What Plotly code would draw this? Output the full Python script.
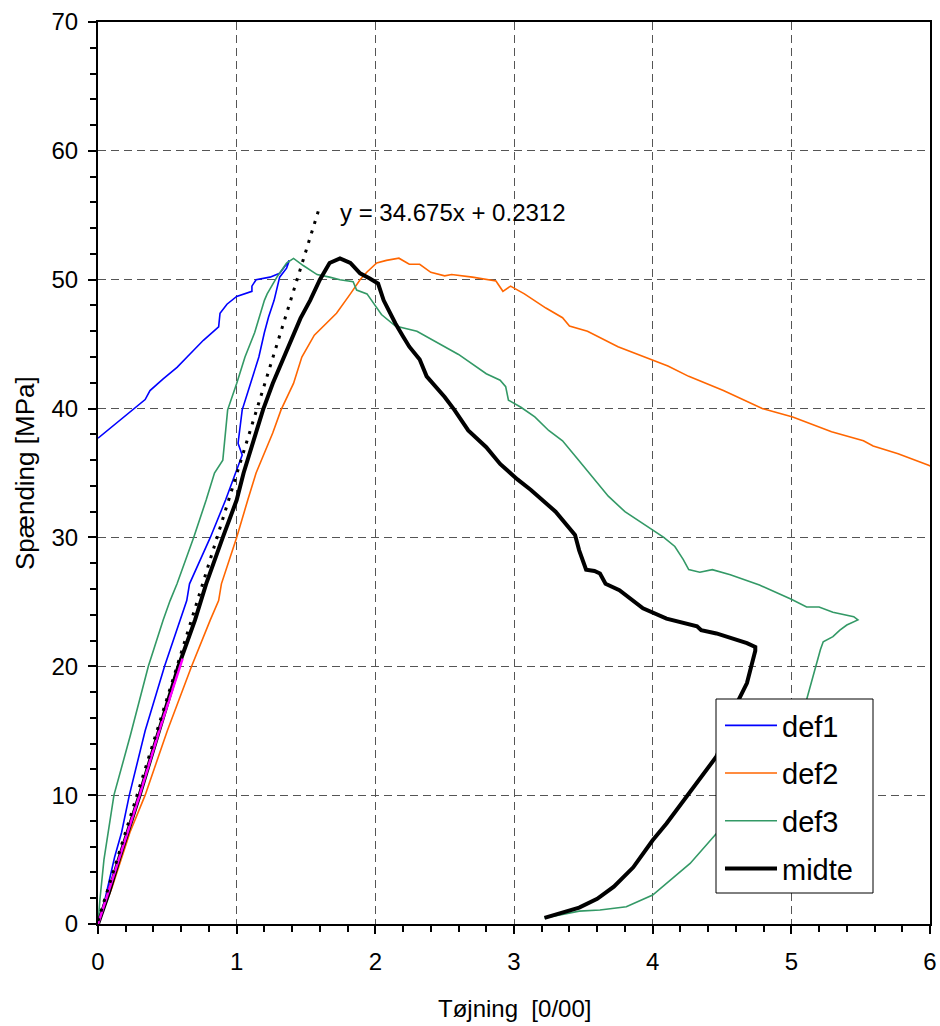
import plotly.graph_objects as go

# ---------------- data ----------------
def1_x = [0, 0.05, 0.12, 0.17, 0.226, 0.34, 0.48, 0.59, 0.64, 0.66, 0.81, 0.92, 0.99, 1.04, 1.01, 1.02, 1.04,
          1.10, 1.16, 1.20, 1.23, 1.27, 1.31, 1.36, 1.38,
          1.31, 1.24, 1.14, 1.11, 1.11, 1.0, 0.93, 0.88, 0.87, 0.76, 0.66, 0.57, 0.47, 0.375, 0.34, 0.25, 0.15, 0.06, 0]
def1_y = [0, 1.9, 5.2, 7.1, 10, 15, 20, 23.6, 25.1, 26.4, 30, 32.9, 35, 36.4, 37.3, 38.1, 39.9,
          41.95, 44, 45.9, 47.1, 48.4, 50.2, 50.9, 51.5,
          50.5, 50.2, 50.0, 49.5, 49.1, 48.7, 48.1, 47.4, 46.35, 45.3, 44.2, 43.2, 42.3, 41.4, 40.7, 39.9, 39.0, 38.2, 37.7]

def2_x = [0, 0.10, 0.23, 0.34, 0.50, 0.675, 0.81, 0.87, 0.89, 1.0, 1.08, 1.14, 1.26, 1.32, 1.41, 1.47, 1.56,
          1.72, 1.82, 1.89, 1.94, 2.01, 2.08, 2.17, 2.245, 2.32, 2.40, 2.50, 2.55, 2.70, 2.87, 2.92, 2.975,
          3.075, 3.23, 3.35, 3.40, 3.53, 3.75, 4.0, 4.11, 4.26, 4.51, 4.79, 5.01, 5.29, 5.52, 5.59, 5.77, 5.99, 6.05]
def2_y = [0, 2.8, 7.1, 10, 15, 20, 23.6, 25.1, 26.4, 30, 32.9, 35, 38.1, 39.9, 41.95, 44, 45.7,
          47.4, 48.9, 50.0, 50.6, 51.3, 51.5, 51.67, 51.2, 51.2, 50.57, 50.3, 50.4, 50.2, 49.9, 49.1, 49.5,
          48.9, 47.8, 47.05, 46.4, 46.0, 44.8, 43.8, 43.3, 42.5, 41.4, 40.0, 39.35, 38.2, 37.5, 37.1, 36.5, 35.6, 35.3]

def3_x = [0, 0.014, 0.043, 0.08, 0.115, 0.235, 0.363, 0.47, 0.52, 0.57, 0.69, 0.78, 0.84, 0.90, 0.92, 0.935,
          1.0, 1.06, 1.13, 1.20, 1.22, 1.29, 1.36, 1.41, 1.48, 1.58, 1.67, 1.745, 1.84, 1.865, 1.94, 2.044,
          2.145, 2.30, 2.50, 2.60, 2.80, 2.90, 2.94, 2.96, 3.05, 3.15, 3.25, 3.35, 3.45, 3.58, 3.68, 3.80,
          3.95, 4.08, 4.16, 4.22, 4.26, 4.34, 4.43, 4.56, 4.77, 5.0, 5.11, 5.20, 5.30, 5.45, 5.48, 5.40,
          5.35, 5.30, 5.23, 5.21, 5.11, 5.0, 4.85, 4.70, 4.58, 4.46, 4.27, 4.0, 3.81, 3.62, 3.47, 3.22]
def3_y = [0, 1.9, 5.0, 7.5, 10, 14.7, 20, 23.6, 25.1, 26.4, 30, 32.9, 35, 36, 38.1, 39.9,
          41.95, 44, 45.9, 48.4, 48.9, 50.2, 51.3, 51.65, 51.1, 50.4, 50.2, 50.0, 49.85, 49.2, 48.9, 47.3,
          46.4, 46.0, 44.8, 44.2, 42.7, 42.2, 41.7, 40.65, 40.1, 39.35, 38.3, 37.5, 36.2, 34.5, 33.2, 32.0,
          30.9, 30.0, 29.3, 28.3, 27.5, 27.3, 27.5, 27.1, 26.3, 25.2, 24.6, 24.6, 24.2, 23.85, 23.6, 23.2,
          22.8, 22.3, 21.9, 21.3, 17.4, 15.0, 12.5, 10.2, 8.5, 7.0, 4.7, 2.25, 1.34, 1.09, 1.0, 0.47]

midte_x = [0, 0.08, 0.15, 0.30, 0.44, 0.58, 0.70, 0.78, 0.90, 1.0, 1.05, 1.14, 1.19, 1.26, 1.34, 1.41, 1.46,
           1.53, 1.60, 1.67, 1.745, 1.82, 1.89, 1.96, 2.02, 2.06, 2.10, 2.145, 2.20, 2.245, 2.32, 2.37, 2.50,
           2.57, 2.67, 2.80, 2.90, 3.025, 3.12, 3.30, 3.44, 3.47, 3.52, 3.58, 3.62, 3.66, 3.76, 3.86, 3.93,
           4.10, 4.32, 4.35, 4.46, 4.68, 4.74, 4.74, 4.68, 4.62, 4.55, 4.46, 4.37, 4.22, 4.10, 4.0, 3.86,
           3.72, 3.60, 3.47, 3.34, 3.22]
midte_y = [0, 2.5, 5, 10, 15, 20, 23.6, 26.4, 30, 32.9, 35, 38.1, 39.9, 41.95, 44, 45.9, 47,
           48.4, 50.0, 51.3, 51.65, 51.3, 50.5, 50.1, 49.7, 48.4, 47.5, 46.6, 45.6, 44.8, 43.8, 42.5, 40.9,
           39.9, 38.3, 37.0, 35.7, 34.5, 33.7, 32.0, 30.2, 29.0, 27.5, 27.4, 27.2, 26.4, 25.9, 25.1, 24.5,
           23.7, 23.1, 22.8, 22.55, 21.8, 21.5, 21.2, 18.7, 17.4, 15.3, 13.0, 11.7, 9.6, 7.8, 6.5, 4.4,
           2.9, 1.95, 1.27, 0.88, 0.47]

fit_x = [0, 0.15, 0.30, 0.45, 0.61]
fit_y = [0, 5.0, 10.0, 15.3, 20.6]

trend_slope = 34.675
trend_intercept = 0.2312
trend_x = [0, 1.6]
trend_y = [trend_slope * v + trend_intercept for v in trend_x]
trend_label = "y = 34.675x + 0.2312"

x_title = "Tøjning  [0/00]"
y_title = "Spænding [MPa]"

FONT = "Arial, Liberation Sans, sans-serif"

fig = go.Figure()
series = [
    ("def1", def1_x, def1_y, "#0000FF", 1.6),
    ("def2", def2_x, def2_y, "#FF6600", 1.6),
    ("def3", def3_x, def3_y, "#339966", 1.6),
    ("midte", midte_x, midte_y, "#000000", 4),
]
for name, xs, ys, col, w in series:
    fig.add_trace(go.Scatter(x=xs, y=ys, mode="lines", name=name, legendgroup=name,
                             line=dict(color=col, width=w)))

fig.add_trace(go.Scatter(x=fit_x, y=fit_y, mode="lines", showlegend=False,
                         line=dict(color="#FF00FF", width=2.5)))
fig.add_trace(go.Scatter(x=trend_x, y=trend_y, mode="lines", showlegend=False,
                         line=dict(color="#000000", width=3, dash="3px,7px")))

fig.add_annotation(x=1.73, y=55.2, xref="x", yref="y", text=trend_label, showarrow=False,
                   xanchor="left", yanchor="middle", font=dict(size=24, color="black", family=FONT))
fig.add_annotation(x=0.5, y=0, xref="paper", yref="paper", text=x_title, showarrow=False,
                   xanchor="center", yanchor="middle", yshift=-84,
                   font=dict(size=24, color="black", family=FONT))
fig.add_annotation(x=0, y=0.5, xref="paper", yref="paper", text=y_title, showarrow=False,
                   xanchor="center", yanchor="middle", xshift=-73, textangle=-90,
                   font=dict(size=26, color="black", family=FONT))

# legend frame
fig.add_shape(type="rect", xref="paper", yref="paper",
              x0=(716 - 98) / 832, x1=(873 - 98) / 832,
              y0=(924 - 893) / 902, y1=(924 - 699) / 902,
              line=dict(color="black", width=1), fillcolor="white", layer="above")

axis_common = dict(
    showline=True, linecolor="black", linewidth=2, mirror=True,
    ticks="outside", ticklen=8, tickwidth=2, tickcolor="black",
    showgrid=True, gridcolor="#555555", gridwidth=1, griddash="8px,5px",
    zeroline=False, automargin=False, tickfont=dict(size=24, color="black", family=FONT),
)
fig.update_xaxes(range=[0, 6], dtick=1, tick0=0, ticklabelstandoff=7,
                 minor=dict(dtick=0.2, ticks="outside", ticklen=6, tickwidth=1.5, tickcolor="black", showgrid=False),
                 **axis_common)
fig.update_yaxes(range=[0, 70], dtick=10, tick0=0, ticklabelstandoff=5,
                 minor=dict(dtick=2, ticks="outside", ticklen=6, tickwidth=1.5, tickcolor="black", showgrid=False),
                 **axis_common)

fig.update_layout(
    width=940, height=1026,
    margin=dict(l=98, r=10, t=22, b=102),
    paper_bgcolor="white", plot_bgcolor="white",
    showlegend=True,
    legend=dict(x=(720 - 98) / 832, y=(924 - 700) / 902, xanchor="left", yanchor="top",
                bgcolor="rgba(0,0,0,0)", borderwidth=0,
                font=dict(size=29, color="black", family=FONT),
                itemwidth=52, tracegroupgap=7, traceorder="grouped"),
    font=dict(family=FONT, color="black"),
)

fig.write_html("out.html", config={"displayModeBar": False},
               post_script="document.body.style.margin='0';document.body.style.overflow='hidden';"
                           "document.documentElement.style.overflow='hidden';")
